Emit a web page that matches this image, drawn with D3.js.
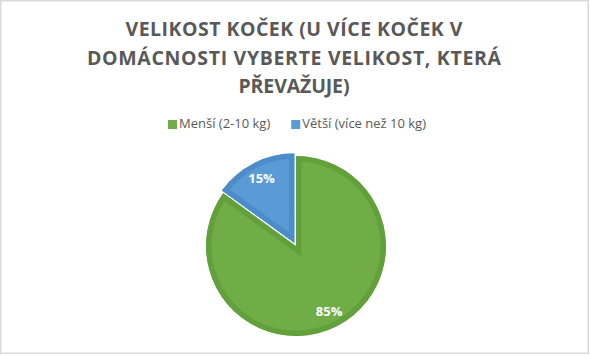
<!DOCTYPE html>
<html lang="cs">
<head>
  <meta charset="UTF-8">
  <title>Velikost koček</title>
  <style>
    body { margin: 0; padding: 0; background: #fff; }
    svg { display: block; font-family: "Open Sans", sans-serif; }
  </style>
</head>
<body>
  <div class="chart"></div>
  <script src="https://cdnjs.cloudflare.com/ajax/libs/d3/7.8.5/d3.min.js"></script>
  <script>
    'use strict';

    // data
    const categories = ['Menší (2-10 kg)', 'Větší (více než 10 kg)'];
    const values = [85, 15];
    const titleLines = ['VELIKOST KOČEK (U VÍCE KOČEK V', 'DOMÁCNOSTI VYBERTE VELIKOST, KTERÁ', 'PŘEVAŽUJE)'];
    const fills = ['#70AD47', '#5B9BD5'];
    const borders = ['#62A03C', '#4C8CC8'];
    const explode = [0, 3];

    const w = 590, h = 355;
    const cx = 296, cy = 246, r = 90;

    const svg = d3.select('.chart').append('svg')
      .attr('width', w)
      .attr('height', h);

    svg.append('rect')
      .attr('x', 0.75).attr('y', 0.75)
      .attr('width', w - 2.5).attr('height', h - 2.5)
      .attr('fill', '#fff')
      .attr('stroke', '#d9d9d9')
      .attr('stroke-width', 1.5);

    // title
    const titleBase = [36, 65, 93];
    const titleLen = [337, 414, 111];
    svg.append('g').selectAll('text')
      .data(titleLines)
      .join('text')
      .attr('x', 294)
      .attr('y', (d, i) => titleBase[i])
      .attr('text-anchor', 'middle')
      .attr('font-size', 19.5)
      .attr('font-weight', 700)
      .attr('fill', '#595959')
      .attr('textLength', (d, i) => titleLen[i])
      .attr('lengthAdjust', 'spacing')
      .text(d => d);

    // legend
    const legend = svg.append('g');
    let lx = 0;
    categories.forEach((c, i) => {
      const item = legend.append('g').attr('transform', `translate(${lx},0)`);
      item.append('rect')
        .attr('x', 0).attr('y', 120)
        .attr('width', 9).attr('height', 9)
        .attr('fill', fills[i]);
      const t = item.append('text')
        .attr('x', 11).attr('y', 127.5)
        .attr('font-size', 13)
        .attr('fill', '#595959')
        .text(c);
      lx += 11 + t.node().getComputedTextLength() + 21;
    });
    const lw = lx - 21;
    legend.attr('transform', `translate(${297 - lw / 2},0)`);

    // pie
    const pie = d3.pie().sort(null).startAngle(0).endAngle(2 * Math.PI);
    const arcs = pie(values);
    const arc = d3.arc().innerRadius(0).outerRadius(r);
    const labelArc = d3.arc().innerRadius(73).outerRadius(73);
    const defs = svg.append('defs');

    const slices = svg.append('g')
      .attr('transform', `translate(${cx},${cy})`)
      .selectAll('g')
      .data(arcs)
      .join('g')
      .attr('transform', (d, i) => {
        const a = (d.startAngle + d.endAngle) / 2;
        return `translate(${Math.sin(a) * explode[i]},${-Math.cos(a) * explode[i]})`;
      });

    slices.each(function (d, i) {
      defs.append('clipPath')
        .attr('id', 'clip' + i)
        .append('path')
        .attr('d', arc(d));
    });

    slices.append('path')
      .attr('d', arc)
      .attr('fill', (d, i) => fills[i])
      .attr('stroke', (d, i) => borders[i])
      .attr('stroke-width', 11)
      .attr('stroke-linejoin', 'miter')
      .attr('clip-path', (d, i) => `url(#clip${i})`);

    slices.append('text')
      .attr('transform', d => `translate(${labelArc.centroid(d)})`)
      .attr('dy', '0.35em')
      .attr('text-anchor', 'middle')
      .attr('font-size', 13)
      .attr('font-weight', 700)
      .attr('fill', '#fff')
      .text(d => d.data + '%');
  </script>
</body>
</html>
